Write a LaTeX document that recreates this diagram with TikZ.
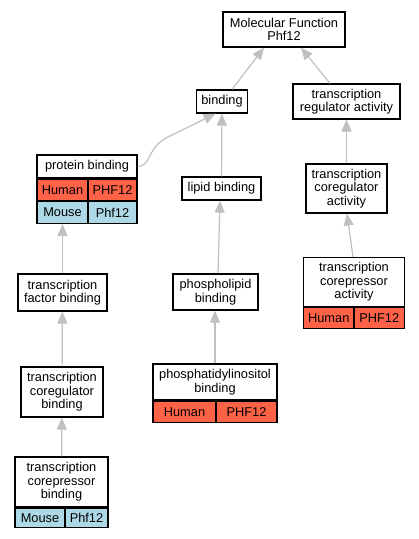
\documentclass[tikz,border=0pt]{standalone}
\usepackage{fontspec}
\setmainfont{Liberation Sans}
\usepackage{tikz}
\usetikzlibrary{arrows.meta}
\definecolor{human}{RGB}{255, 99, 71}
\definecolor{mouse}{RGB}{173, 216, 230}
\definecolor{edgegray}{RGB}{192, 192, 192}

\tikzset{
  term/.style={draw=black, fill=white, line width=1.2pt, inner sep=0pt, align=center,
    font=\fontsize{12.8}{13.5}\selectfont},
  cell/.style={draw=black, line width=1.2pt, inner sep=0pt,
    font=\fontsize{12.8}{13.5}\selectfont},
  edge/.style={draw=edgegray, line width=1.2pt, -{Triangle[width=10pt, length=12pt]}}
}

\begin{document}
\begin{tikzpicture}[x=1pt, y=-1pt]
  \useasboundingbox (0, 0) rectangle (419, 539);

  \node[term, minimum width=122, minimum height=35] (mf) at (284, 29.5) {Molecular Function\\Phf12};
  \node[term, minimum width=51, minimum height=23] (bind) at (222, 101.5) {binding};
  \node[term, minimum width=107, minimum height=35] (tra) at (346.5, 101.5) {transcription\\regulator activity};

  % protein binding with its two rows
  \node[term, minimum width=100, minimum height=23] (pb) at (87, 166.5) {protein binding};
  \node[cell, fill=human, anchor=north west, minimum width=51, minimum height=21] (pbh) at (pb.south west) {Human};
  \node[cell, fill=human, anchor=north east, minimum width=49, minimum height=21] (pbhg) at (pb.south east) {PHF12};
  \node[cell, fill=mouse, anchor=north west, minimum width=51, minimum height=22] (pbm) at (pbh.south west) {Mouse};
  \node[cell, fill=mouse, anchor=north east, minimum width=49, minimum height=22] (pbmg) at (pbhg.south east) {Phf12};

  \node[term, minimum width=79, minimum height=23] (lb) at (221.5, 188.5) {lipid binding};
  \node[term, minimum width=81, minimum height=49] (tca) at (346.5, 188.5) {transcription\\coregulator\\activity};

  \node[term, minimum width=89, minimum height=37] (tfb) at (62.5, 292.5) {transcription\\factor binding};
  \node[term, minimum width=85, minimum height=36] (plb) at (215.5, 292) {phospholipid\\binding};

  \node[term, minimum width=101, minimum height=49] (tcra) at (354, 282) {transcription\\corepressor\\activity};
  \node[cell, fill=human, anchor=north west, minimum width=50.5, minimum height=21] (tcrah) at (tcra.south west) {Human};
  \node[cell, fill=human, anchor=north east, minimum width=50.5, minimum height=21] (tcrahg) at (tcra.south east) {PHF12};

  \node[term, minimum width=124, minimum height=36] (pib) at (215, 382) {phosphatidylinositol\\binding};
  \node[cell, fill=human, anchor=north west, minimum width=63, minimum height=21] (pibh) at (pib.south west) {Human};
  \node[cell, fill=human, anchor=north east, minimum width=61, minimum height=21] (pibhg) at (pib.south east) {PHF12};

  \node[term, minimum width=82, minimum height=50] (tcb) at (62, 392) {transcription\\coregulator\\binding};

  \node[term, minimum width=93, minimum height=50] (tcrb) at (61.5, 482) {transcription\\corepressor\\binding};
  \node[cell, fill=mouse, anchor=north west, minimum width=50, minimum height=19] (tcrbm) at (tcrb.south west) {Mouse};
  \node[cell, fill=mouse, anchor=north east, minimum width=43, minimum height=19] (tcrbmg) at (tcrb.south east) {Phf12};

  % is_a edges, child to parent
  \draw[edge] (bind.north -| 232, 0) -- (mf.south -| 264, 0);
  \draw[edge] (tra.north -| 330, 0) -- (mf.south -| 301, 0);
  \draw[edge] (pb.east) .. controls (152, 166) and (146, 148) .. (168, 137) -- (bind.-118);
  \draw[edge] (lb) -- (bind);
  \draw[edge] (tca) -- (tra);
  \draw[edge] (tfb) -- (pbm);
  \draw[edge] (plb.north -| 218, 0) -- (lb.south -| 220, 0);
  \draw[edge] (tcra.north -| 353, 0) -- (tca.south -| 347, 0);
  \draw[edge] (tcb) -- (tfb);
  \draw[edge] (pib.north -| 215, 0) -- (plb.south -| 215, 0);
  \draw[edge] (tcrb) -- (tcb);
\end{tikzpicture}
\end{document}
